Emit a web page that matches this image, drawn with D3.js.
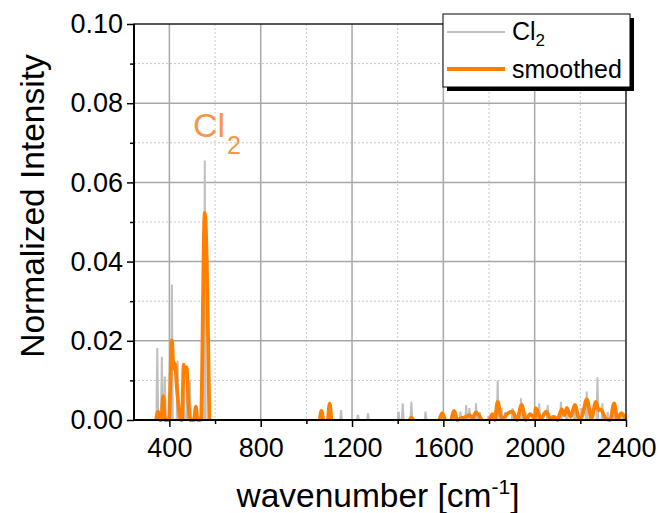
<!DOCTYPE html>
<html>
<head>
<meta charset="utf-8">
<script src="https://cdn.jsdelivr.net/npm/d3@7"></script>
<style>
  body { margin: 0; background: #fff; }
  text { font-family: "Liberation Sans", Arial, sans-serif; fill: #000; }
</style>
</head>
<body>
<svg id="chart" width="662" height="513"></svg>
<script>
// raw Cl2 spectrum (wavenumber, intensity)
const rawWn = [245, 343, 347, 351, 363, 367, 371, 376, 380, 384, 407, 411, 415, 432, 436, 440, 457, 461, 465, 474, 478, 482, 486, 490, 494,
  512, 516, 520, 551, 555, 559,
  1062, 1066, 1070, 1098, 1102, 1106, 1148, 1152, 1156, 1222, 1226, 1230, 1266, 1270, 1274,
  1400, 1404, 1408, 1418, 1422, 1426, 1456, 1460, 1464, 1518, 1522, 1526, 1591, 1595, 1599,
  1644, 1648, 1652, 1671, 1675, 1679, 1696, 1700, 1704, 1710, 1714, 1718, 1739, 1743, 1747, 1756, 1760, 1764,
  1794, 1798, 1802, 1834, 1838, 1842, 1851, 1855, 1859, 1866, 1870, 1874, 1899, 1903, 1907,
  1936, 1940, 1944, 1956, 1960, 1964, 2001, 2005, 2009, 2016, 2020, 2024, 2053, 2057, 2061, 2074, 2078, 2082,
  2111, 2115, 2119, 2137, 2141, 2145, 2172, 2176, 2180, 2201, 2205, 2209, 2224, 2228, 2232, 2241, 2245, 2249,
  2271, 2275, 2279, 2293, 2297, 2301, 2316, 2320, 2324, 2344, 2348, 2352, 2376, 2380, 2384, 2400];
const rawInt = [0, 0, 0.0182, 0, 0, 0.016, 0, 0, 0.011, 0, 0, 0.0342, 0, 0, 0.015, 0, 0, 0.014, 0, 0, 0.0127, 0, 0, 0.010, 0,
  0, 0.003, 0, 0, 0.0655, 0,
  0, 0.002, 0, 0, 0.004, 0, 0, 0.0025, 0, 0, 0.0013, 0, 0, 0.0017, 0,
  0, 0.0021, 0, 0, 0.0042, 0, 0, 0.0046, 0, 0, 0.0021, 0, 0, 0.001, 0,
  0, 0.0015, 0, 0, 0.0021, 0, 0, 0.0038, 0, 0, 0.003, 0, 0, 0.0042, 0, 0, 0.002, 0,
  0, 0.001, 0, 0, 0.010, 0, 0, 0.003, 0, 0, 0.002, 0, 0, 0.003, 0,
  0, 0.0055, 0, 0, 0.002, 0, 0, 0.0025, 0, 0, 0.0042, 0, 0, 0.0038, 0, 0, 0.0012, 0,
  0, 0.0046, 0, 0, 0.0034, 0, 0, 0.0034, 0, 0, 0.003, 0, 0, 0.0072, 0, 0, 0.003, 0,
  0, 0.0108, 0, 0, 0.0042, 0, 0, 0.002, 0, 0, 0.003, 0, 0, 0.0015, 0, 0];

// smoothed spectrum, null = gap
const smWn = [342, 351, 358, 365, 373, 381, 398, 411, 418, 425, 433, 450, 455, 463, 468, 475, 484, 490, 508, 516, 523, 538, 555, 575, 576,
  1059, 1066, 1073, 1074, 1095, 1102, 1109, 1110, 1452, 1460, 1468, 1469, 1583, 1595, 1607, 1608,
  1635, 1648, 1660, 1680, 1700, 1714, 1728, 1743, 1755, 1768, 1769,
  1802, 1815, 1825, 1838, 1852, 1865, 1878, 1903, 1922, 1943, 1960, 1980, 2000, 2005, 2027, 2050, 2070, 2085, 2100,
  2118, 2130, 2141, 2158, 2176, 2195, 2209, 2228, 2249, 2268, 2279, 2289, 2312, 2331, 2348, 2362, 2380, 2400];
const smInt = [0, 0.0021, 0, 0, 0.006, 0, 0, 0.0201, 0.013, 0.0142, 0.008, 0, 0, 0.014, 0.012, 0.0133, 0.004, 0, 0, 0.0034, 0, 0, 0.0523, 0, null,
  0, 0.0023, 0, null, 0, 0.0042, 0, null, 0, 0.0006, 0, null, 0, 0.0017, 0, null,
  0, 0.0023, 0, 0.0005, 0.0008, 0.0012, 0.0005, 0.0019, 0.0012, 0, null,
  0, 0.0015, 0, 0.0046, 0.0008, 0.0005, 0.0015, 0.0021, 0, 0.0038, 0, 0.0015, 0.0005, 0.003, 0.0003, 0.0021, 0.0003, 0.0008, 0,
  0.0027, 0.0012, 0.003, 0.0008, 0.0038, 0.0003, 0.0012, 0.0052, 0.0005, 0.0046, 0.0025, 0.0027, 0.0003, 0, 0.0042, 0.0003, 0.0017, 0];

const xTicks = [400, 800, 1200, 1600, 2000, 2400];
const xMinor = [600, 1000, 1400, 1800, 2200];
const yTicks = [0, 0.02, 0.04, 0.06, 0.08, 0.10];
const yMinor = [0.01, 0.03, 0.05, 0.07, 0.09];

const L = 134, R = 626, T = 24, B = 420;
const svg = d3.select("#chart");
const x = d3.scaleLinear().domain([245, 2400]).range([L, R]);
const y = d3.scaleLinear().domain([0, 0.10]).range([B, T]);

// grid
const grid = svg.append("g");
grid.selectAll(".gxm").data(xMinor).join("line")
  .attr("x1", d => x(d)).attr("x2", d => x(d)).attr("y1", T).attr("y2", B)
  .attr("stroke", "#c8c8c8").attr("stroke-width", 1).attr("stroke-dasharray", "2,2");
grid.selectAll(".gym").data(yMinor).join("line")
  .attr("y1", d => y(d)).attr("y2", d => y(d)).attr("x1", L).attr("x2", R)
  .attr("stroke", "#c8c8c8").attr("stroke-width", 1).attr("stroke-dasharray", "2,2");
grid.selectAll(".gx").data(xTicks.slice(0, -1)).join("line")
  .attr("x1", d => x(d)).attr("x2", d => x(d)).attr("y1", T).attr("y2", B)
  .attr("stroke", "#a8a8a8").attr("stroke-width", 1.5);
grid.selectAll(".gy").data(yTicks.slice(1, -1)).join("line")
  .attr("y1", d => y(d)).attr("y2", d => y(d)).attr("x1", L).attr("x2", R)
  .attr("stroke", "#a8a8a8").attr("stroke-width", 1.5);

// data lines
const raw = rawWn.map((w, i) => [w, rawInt[i]]);
const sm = smWn.map((w, i) => [w, smInt[i]]);
svg.append("path").datum(raw)
  .attr("fill", "none").attr("stroke", "#c0c0c0").attr("stroke-width", 2)
  .attr("d", d3.line().x(d => x(d[0])).y(d => y(d[1])));
svg.append("path").datum(sm)
  .attr("fill", "none").attr("stroke", "#ff8000").attr("stroke-width", 3.8)
  .attr("stroke-linejoin", "round")
  .attr("d", d3.line().defined(d => d[1] !== null).curve(d3.curveMonotoneX)
    .x(d => x(d[0])).y(d => y(d[1])));

// axes
const xAxis = svg.append("g").attr("transform", `translate(0,${B})`)
  .call(d3.axisBottom(x).tickValues(xTicks).tickSize(7).tickFormat(d3.format("d")));
svg.append("g").attr("transform", `translate(0,${B})`)
  .call(d3.axisBottom(x).tickValues(xMinor).tickSize(4).tickFormat(""));
const yAxis = svg.append("g").attr("transform", `translate(${L},0)`)
  .call(d3.axisLeft(y).tickValues(yTicks).tickSize(7).tickFormat(d3.format(".2f")));
svg.append("g").attr("transform", `translate(${L},0)`)
  .call(d3.axisLeft(y).tickValues(yMinor).tickSize(4).tickFormat(""));
svg.selectAll(".domain").remove();
svg.selectAll(".tick line").attr("stroke", "#000").attr("stroke-width", 1.5);
xAxis.selectAll(".tick text").attr("font-size", 27).attr("font-family", "Liberation Sans").attr("dy", "1.0em");
yAxis.selectAll(".tick text").attr("font-size", 27).attr("font-family", "Liberation Sans").attr("x", -11);

// frame
svg.append("rect").attr("x", L).attr("y", T).attr("width", R - L).attr("height", B - T)
  .attr("fill", "none").attr("stroke", "#222").attr("stroke-width", 1.5);
svg.append("line").attr("x1", L).attr("x2", L).attr("y1", T).attr("y2", B + 1)
  .attr("stroke", "#000").attr("stroke-width", 2);
svg.append("line").attr("x1", L - 1).attr("x2", R).attr("y1", B).attr("y2", B)
  .attr("stroke", "#000").attr("stroke-width", 2);

// axis titles
svg.append("text").attr("x", 378).attr("y", 507).attr("text-anchor", "middle")
  .attr("font-size", 33.5)
  .call(t => {
    t.append("tspan").text("wavenumber [cm");
    t.append("tspan").attr("font-size", 21).attr("dy", -13).text("-1");
    t.append("tspan").attr("dy", 13).text("]");
  });
svg.append("text").attr("transform", "translate(44,206) rotate(-90)")
  .attr("text-anchor", "middle").attr("font-size", 33.5).text("Normalized Intensity");

// peak label
svg.append("text").attr("x", 193).attr("y", 137).attr("font-family", "Open Sans")
  .attr("font-size", 34).style("fill", "#f79646")
  .call(t => {
    t.append("tspan").text("Cl");
    t.append("tspan").attr("font-size", 25).attr("dx", 2).attr("dy", 17).text("2");
  });

// legend
const lg = svg.append("g");
lg.append("rect").attr("x", 447).attr("y", 18).attr("width", 187).attr("height", 73).attr("fill", "#000");
lg.append("rect").attr("x", 443).attr("y", 14).attr("width", 187).attr("height", 73)
  .attr("fill", "#fff").attr("stroke", "#000").attr("stroke-width", 1);
lg.append("line").attr("x1", 447).attr("x2", 505).attr("y1", 32).attr("y2", 32)
  .attr("stroke", "#c0c0c0").attr("stroke-width", 2);
lg.append("line").attr("x1", 447).attr("x2", 505).attr("y1", 69).attr("y2", 69)
  .attr("stroke", "#ff8000").attr("stroke-width", 3.8);
lg.append("text").attr("x", 512).attr("y", 40).attr("font-size", 25)
  .call(t => {
    t.append("tspan").text("Cl");
    t.append("tspan").attr("font-size", 17).attr("dy", 6).text("2");
  });
lg.append("text").attr("x", 512).attr("y", 78).attr("font-size", 25).text("smoothed");
</script>
</body>
</html>
